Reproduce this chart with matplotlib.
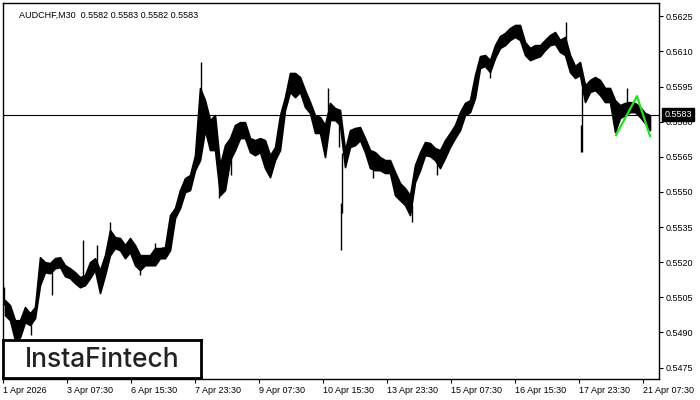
import numpy as np
import matplotlib
matplotlib.use("Agg")
import matplotlib.pyplot as plt

# AUDCHF M30 (price ranges per block of 5 bars)
chart_title = "AUDCHF,M30  0.5582 0.5583 0.5582 0.5583"
last_price = 0.5583

seg_hi = [0.55038, 0.55016, 0.54952, 0.54952, 0.55008, 0.54982, 0.55008, 0.55221,
          0.55200, 0.55196, 0.55217, 0.55221, 0.55187, 0.55174, 0.55157, 0.55136,
          0.55145, 0.55200, 0.55217, 0.55166, 0.55230, 0.55337, 0.55307, 0.55303,
          0.55273, 0.55303, 0.55273, 0.55230, 0.55230, 0.55230, 0.55260, 0.55260,
          0.55264, 0.55401, 0.55431, 0.55508, 0.55559, 0.55572, 0.55657, 0.55944,
          0.55892, 0.55807, 0.55828, 0.55615, 0.55700, 0.55730, 0.55786, 0.55798,
          0.55798, 0.55730, 0.55721, 0.55730, 0.55721, 0.55657, 0.55691, 0.55828,
          0.55905, 0.56008, 0.56008, 0.55991, 0.55935, 0.55884, 0.55828, 0.55820,
          0.55786, 0.55880, 0.55858, 0.55850, 0.55679, 0.55764, 0.55773, 0.55777,
          0.55730, 0.55679, 0.55670, 0.55649, 0.55636, 0.55636, 0.55585, 0.55538,
          0.55516, 0.55486, 0.55615, 0.55670, 0.55713, 0.55709, 0.55687, 0.55679,
          0.55721, 0.55752, 0.55786, 0.55841, 0.55880, 0.55892, 0.55999, 0.56080,
          0.56085, 0.56063, 0.56127, 0.56166, 0.56179, 0.56200, 0.56213, 0.56213,
          0.56140, 0.56115, 0.56127, 0.56127, 0.56149, 0.56170, 0.56183, 0.56149,
          0.56162, 0.56085, 0.56038, 0.56055, 0.55956, 0.55978, 0.55991, 0.55978,
          0.55944, 0.55944, 0.55892, 0.55871, 0.55880, 0.55884, 0.55880, 0.55863,
          0.55837, 0.55828]
seg_lo = [0.54974, 0.54952, 0.54867, 0.54879, 0.54944, 0.54931, 0.54961, 0.55102,
          0.55157, 0.55153, 0.55174, 0.55179, 0.55140, 0.55132, 0.55110, 0.55093,
          0.55102, 0.55132, 0.55166, 0.55068, 0.55145, 0.55230, 0.55260, 0.55251,
          0.55217, 0.55243, 0.55187, 0.55166, 0.55187, 0.55187, 0.55187, 0.55217,
          0.55217, 0.55251, 0.55388, 0.55431, 0.55499, 0.55508, 0.55593, 0.55636,
          0.55764, 0.55679, 0.55679, 0.55486, 0.55508, 0.55636, 0.55679, 0.55730,
          0.55730, 0.55670, 0.55657, 0.55670, 0.55602, 0.55563, 0.55636, 0.55679,
          0.55850, 0.55927, 0.55905, 0.55927, 0.55863, 0.55837, 0.55752, 0.55752,
          0.55649, 0.55807, 0.55807, 0.55786, 0.55606, 0.55692, 0.55700, 0.55721,
          0.55670, 0.55602, 0.55593, 0.55593, 0.55581, 0.55581, 0.55486, 0.55465,
          0.55444, 0.55401, 0.55542, 0.55593, 0.55657, 0.55653, 0.55636, 0.55602,
          0.55645, 0.55692, 0.55730, 0.55764, 0.55828, 0.55841, 0.55901, 0.56029,
          0.56038, 0.56012, 0.56072, 0.56115, 0.56127, 0.56149, 0.56162, 0.56149,
          0.56085, 0.56063, 0.56072, 0.56080, 0.56106, 0.56127, 0.56132, 0.56098,
          0.56085, 0.56012, 0.55987, 0.55999, 0.55884, 0.55927, 0.55935, 0.55914,
          0.55884, 0.55884, 0.55756, 0.55816, 0.55828, 0.55841, 0.55841, 0.55820,
          0.55794, 0.55764]

# single long wicks (bar index, high, low)
spike_bar = [1, 28, 49, 80, 94, 107, 137, 152, 198, 216, 228, 325, 336, 338, 339,
             370, 409, 434, 487, 563, 578, 579, 608, 624]
spike_hi = [0.55094, 0.54952, 0.55187, 0.55294, 0.55273, 0.55371, 0.55187, 0.55281,
            0.56055, 0.55550, 0.55679, 0.55944, 0.55828, 0.55453, 0.55666, 0.55636,
            0.55444, 0.55636, 0.56042, 0.56226, 0.55786, 0.55944, 0.55914, 0.55944]
spike_lo = [0.55016, 0.54888, 0.55059, 0.55123, 0.55187, 0.55273, 0.55145, 0.55230,
            0.55892, 0.55474, 0.55572, 0.55850, 0.55692, 0.55251, 0.55410, 0.55559,
            0.55371, 0.55572, 0.55987, 0.56127, 0.55670, 0.55670, 0.55858, 0.55871]

# pattern drawn in green
pattern_bar = [613, 634, 647]
pattern_price = [0.55743, 0.55909, 0.55739]

price_ticks = [0.5475, 0.5490, 0.5505, 0.5520, 0.5535, 0.5550, 0.5565, 0.5580,
               0.5595, 0.5610, 0.5625]
time_ticks = [0, 64, 128, 192, 256, 320, 384, 448, 512, 576, 640]
time_labels = ["1 Apr 2026", "3 Apr 07:30", "6 Apr 15:30", "7 Apr 23:30",
               "9 Apr 07:30", "10 Apr 15:30", "13 Apr 23:30", "15 Apr 07:30",
               "16 Apr 15:30", "17 Apr 23:30", "21 Apr 07:30"]

plt.rcParams["font.family"] = ["Liberation Sans", "DejaVu Sans"]
fs = 6.5

fig = plt.figure(figsize=(7, 4), dpi=100)
ax = fig.add_axes([3 / 700, 21 / 400, 656 / 700, 376 / 400])

hi = np.array(seg_hi)
lo = np.array(seg_lo)
seg_x = np.arange(len(hi)) * 5 + 2
ax.fill_between(seg_x, lo, hi, color="black", linewidth=1.2, edgecolor="black")
ax.vlines(spike_bar, spike_lo, spike_hi, color="black", linewidth=1)

ax.axhline(last_price, color="black", linewidth=0.8)
ax.plot(pattern_bar, pattern_price, color="#22e01e", linewidth=1.6, zorder=5)

ax.set_xlim(0, 656)
ax.set_ylim(0.54701, 0.56307)

ax.yaxis.tick_right()
ax.set_yticks(price_ticks)
ax.set_yticklabels([f"{p:.4f}" for p in price_ticks], fontsize=fs)
ax.set_xticks(time_ticks)
ax.set_xticklabels(time_labels, fontsize=fs, ha="left")
ax.tick_params(axis="both", direction="out", length=3, width=0.8, pad=2)
for s in ax.spines.values():
    s.set_linewidth(1)

ax.text(0.025, 0.978, chart_title, transform=ax.transAxes, fontsize=fs,
        va="top", ha="left")

# last price marker on the scale
ax.text(1.008, last_price, f"{last_price:.4f}", transform=ax.get_yaxis_transform(),
        fontsize=fs, color="white", va="center", ha="left", zorder=10,
        bbox=dict(boxstyle="square,pad=0.25", fc="black", ec="black"),
        clip_on=False)

# logo box
logo = fig.add_axes([3 / 700, 22 / 400, 198 / 700, 38 / 400])
logo.set_xticks([])
logo.set_yticks([])
for s in logo.spines.values():
    s.set_linewidth(2)
logo.text(0.5, 0.47, "InstaFintech", fontsize=19, family="Inter",
          fontweight="medium", color="#222222", ha="center", va="center")

fig.savefig("out.png", dpi=100)
